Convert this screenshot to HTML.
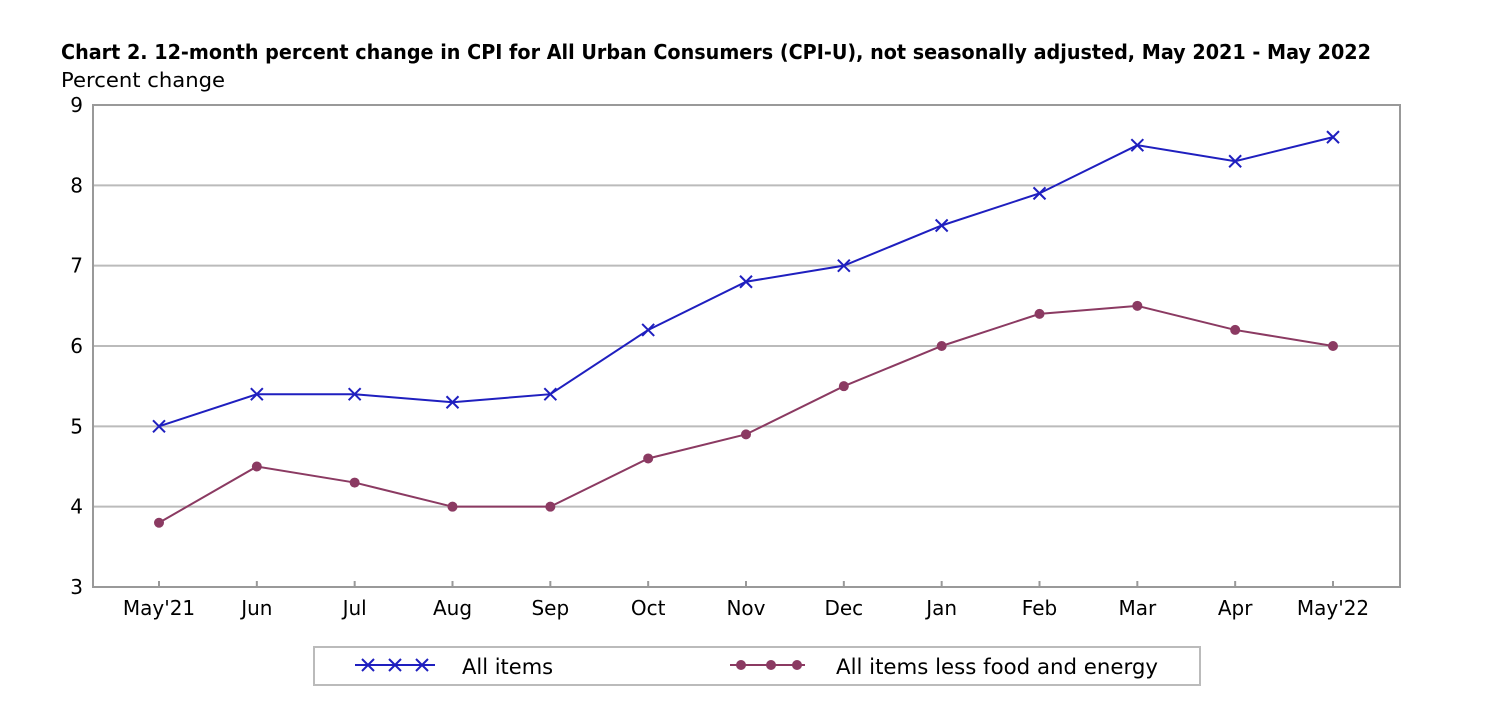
<!DOCTYPE html>
<html><head><meta charset="utf-8"><style>
body{margin:0;background:#fff;}
svg{display:block;font-family:"DejaVu Sans","Liberation Sans",sans-serif;}
</style></head><body>
<svg id="chart" width="1501" height="720" xmlns="http://www.w3.org/2000/svg">
<text x="61" y="59" font-size="20" font-weight="bold" fill="#000" textLength="1310" lengthAdjust="spacingAndGlyphs">Chart 2. 12-month percent change in CPI for All Urban Consumers (CPI-U), not seasonally adjusted, May 2021 - May 2022</text>
<text x="61" y="87" font-size="20" fill="#000" textLength="164" lengthAdjust="spacingAndGlyphs">Percent change</text>
<g id="grid"></g>
<rect x="93" y="105" width="1307" height="482" fill="none" stroke="#999" stroke-width="2"/>
<g id="marks"></g>
<g id="axes"></g>
<rect x="314" y="647" width="886" height="38" fill="#fff" stroke="#bbb" stroke-width="2"/>
<g>
<line x1="355" y1="665" x2="435" y2="665" stroke="#1f1fbf" stroke-width="2"/>
<path d="M362,659L374,671M362,671L374,659M389,659L401,671M389,671L401,659M416,659L428,671M416,671L428,659" stroke="#1f1fbf" stroke-width="2"/>
<text x="462" y="674" font-size="21" fill="#000">All items</text>
</g>
<g>
<line x1="730" y1="665" x2="805" y2="665" stroke="#8b3a62" stroke-width="2"/>
<circle cx="741" cy="665" r="5" fill="#8b3a62"/><circle cx="771" cy="665" r="5" fill="#8b3a62"/><circle cx="797" cy="665" r="5" fill="#8b3a62"/>
<text x="836" y="674" font-size="21" fill="#000" textLength="322" lengthAdjust="spacingAndGlyphs">All items less food and energy</text>
</g>
</svg>
<script>
const categories=["May'21","Jun","Jul","Aug","Sep","Oct","Nov","Dec","Jan","Feb","Mar","Apr","May'22"];
const allItems=[5.0,5.4,5.4,5.3,5.4,6.2,6.8,7.0,7.5,7.9,8.5,8.3,8.6];
const coreItems=[3.8,4.5,4.3,4.0,4.0,4.6,4.9,5.5,6.0,6.4,6.5,6.2,6.0];
const yTicks=[3,4,5,6,7,8,9];
const NS="http://www.w3.org/2000/svg";
const x=i=>159+i*(1333-159)/(categories.length-1);
const y=v=>587-(v-3)*(587-105)/6;
function mk(t,a,p){const e=document.createElementNS(NS,t);for(const k in a)e.setAttribute(k,a[k]);p.appendChild(e);return e;}
const grid=document.getElementById('grid'),marks=document.getElementById('marks'),axes=document.getElementById('axes');
yTicks.forEach(v=>{
 if(v>3&&v<9){const g=mk('line',{x1:93,x2:1400,y1:y(v),y2:y(v),stroke:'#bbb','stroke-width':2},grid);
 
 }
 const t=mk('text',{x:83,y:y(v)+7,'font-size':20,'text-anchor':'end'},axes);t.textContent=v;
 
 
});
categories.forEach((c,i)=>{
 mk('line',{x1:x(i),x2:x(i),y1:587,y2:581,stroke:'#999','stroke-width':2},axes);
 const t=mk('text',{x:x(i),y:615,'font-size':20,'text-anchor':'middle'},axes);t.textContent=c;
 
 
});
const p1=mk('polyline',{points:allItems.map((v,i)=>x(i)+','+y(v)).join(' '),fill:'none',stroke:'#1f1fbf','stroke-width':2},marks);


const p2=mk('polyline',{points:coreItems.map((v,i)=>x(i)+','+y(v)).join(' '),fill:'none',stroke:'#8b3a62','stroke-width':2},marks);


allItems.forEach((v,i)=>{
 const cx=x(i),cy=y(v);
 const m=mk('path',{d:`M${cx-6},${cy-6}L${cx+6},${cy+6}M${cx-6},${cy+6}L${cx+6},${cy-6}`,stroke:'#1f1fbf','stroke-width':2},marks);
 
 
});
coreItems.forEach((v,i)=>{
 const m=mk('circle',{cx:x(i),cy:y(v),r:5,fill:'#8b3a62'},marks);
 
 
});
</script>
</body></html>
